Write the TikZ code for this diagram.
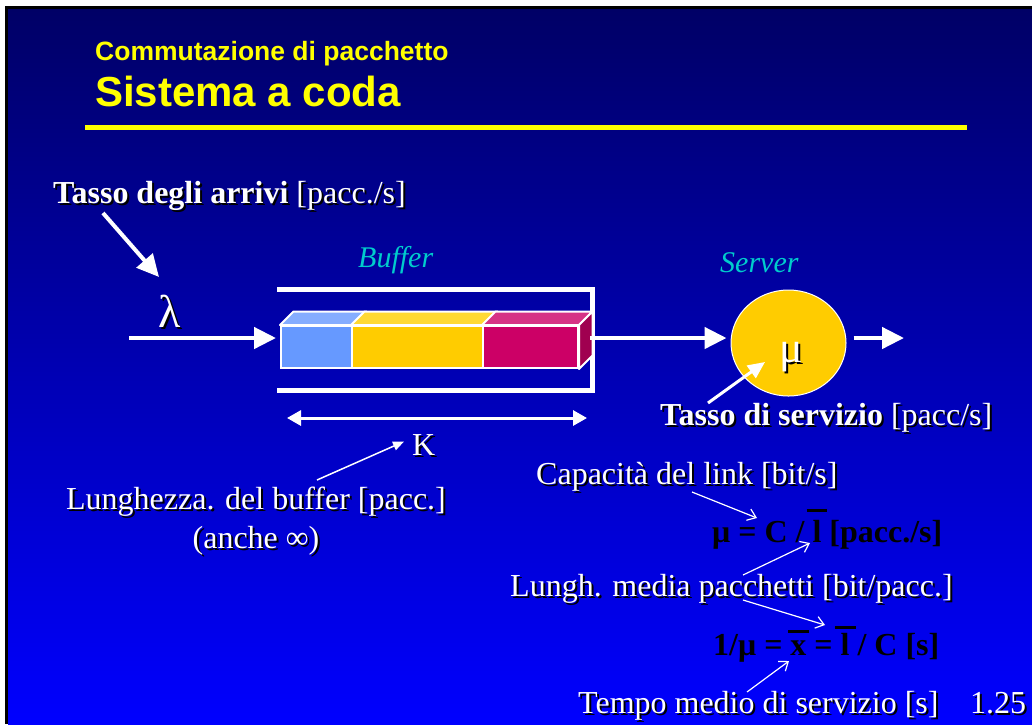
\documentclass[tikz,border=0pt]{standalone}
\usepackage{fontspec}
\setmainfont{Liberation Serif}
\newfontfamily\arialfont{Liberation Sans}
\usetikzlibrary{arrows.meta,calc,shapes.geometric}
\definecolor{navy}{RGB}{0,0,102}
\definecolor{midblue}{RGB}{0,0,180}
\definecolor{bblue}{RGB}{0,0,255}
\definecolor{ttlyellow}{RGB}{255,255,0}
\definecolor{cyanlbl}{RGB}{0,204,204}
\definecolor{pblue}{RGB}{102,153,255}
\definecolor{pbluetop}{RGB}{133,173,255}
\definecolor{pyellow}{RGB}{255,204,0}
\definecolor{pyellowtop}{RGB}{255,217,51}
\definecolor{pmag}{RGB}{204,0,102}
\definecolor{pmagtop}{RGB}{214,51,133}
\definecolor{pmagside}{RGB}{160,0,80}
\newcommand\fs[1]{\fontsize{#1}{#1}\selectfont}
\newcommand\ovbar[2]{\setbox0\hbox{#1}\rlap{\hbox to \wd0{\hss\raisebox{#2}{\rule{0.65em}{0.09em}}\hss}}\box0\relax}
\newcommand\shnode[4][]{%
  \node[txt,#1,text=black] at ($(#3)+(2,2)$) {#4};
  \node[txt,#1] (#2) at (#3) {#4};}
\begin{document}
\begin{tikzpicture}[x=1pt,y=-1pt,
  txt/.style={font=\fs{32}, inner sep=0pt, text=white},
  title/.style={inner sep=0pt, text=ttlyellow, anchor=base west},
  lbl/.style={inner sep=0pt, text=cyanlbl, anchor=base west, font=\fs{30}\itshape},
  formula/.style={inner sep=0pt, text=black, anchor=base west, font=\fs{32}\bfseries},
  bigarrow/.style={draw=white, line width=4.5pt, -{Triangle[length=22pt,width=21pt]}},
  midarrow/.style={draw=white, line width=3pt, -{Triangle[length=17pt,width=15pt]}},
  karrow/.style={draw=white, line width=3pt, {Triangle[length=14pt,width=15pt]}-{Triangle[length=14pt,width=15pt]}},
  smallarrow/.style={draw=white, line width=1.5pt, -{Triangle[length=11pt,width=9pt]}},
  thinarrow/.style={draw=white, line width=1.2pt, -{Straight Barb[length=8pt,width=12pt,line width=1.2pt]}},
  pkt/.style={draw=white, line width=2pt, minimum height=42pt, inner sep=0pt, anchor=north west},
  face/.style={draw=white, line width=2pt, line join=round}]
\useasboundingbox (0,0) rectangle (1032,724);
% background
\fill[white] (0,0) rectangle (1032,724);
\fill[black] (5,6) rectangle (1032,724);
\shade[top color=navy, middle color=midblue, bottom color=bblue] (8,9) rectangle (1032,724);
% title
\node[title, font=\arialfont\bfseries\fs{26.5}] (t1) at (95,60) {Commutazione di pacchetto};
\node[title, font=\arialfont\bfseries\fs{42}] (t2) at (95,106) {Sistema a coda};
\draw[ttlyellow, line width=5pt] (85,127.5) -- (967,127.5);
% arrivals
\shnode[anchor=base west]{arr}{53,203}{\textbf{Tasso degli arrivi} [pacc./s]}
\coordinate (a1s) at (103,213);
\coordinate (a1e) at (159,277);
\draw[bigarrow, line width=4pt] (a1s) -- (a1e);
\shnode[anchor=base west, font=\fs{46}]{lam}{158,327}{λ}
% labels
\node[lbl] (buflbl) at (358,267) {Buffer};
\node[lbl] (srvlbl) at (720,272) {Server};
% buffer walls
\draw[white, line width=5pt] (277,289.5) -- (592.5,289.5) -- (592.5,390) -- (277,390);
% packets
\node[pkt, fill=pblue, minimum width=71pt] (p1) at (280,325) {};
\node[pkt, fill=pyellow, minimum width=131pt] (p2) at (351,325) {};
\node[pkt, fill=pmag, minimum width=95pt] (p3) at (482,325) {};
\filldraw[face, fill=pbluetop] (p1.north west) -- ++(13.5,-13.5) -- ($(p1.north east)+(13.5,-13.5)$) -- (p1.north east) -- cycle;
\filldraw[face, fill=pyellowtop] (p2.north west) -- ++(13.5,-13.5) -- ($(p2.north east)+(13.5,-13.5)$) -- (p2.north east) -- cycle;
\filldraw[face, fill=pmagtop] (p3.north west) -- ++(13.5,-13.5) -- ($(p3.north east)+(13.5,-13.5)$) -- (p3.north east) -- cycle;
\filldraw[face, fill=pmagside] (p3.north east) -- ++(13.5,-13.5) -- ($(p3.south east)+(13.5,-13.5)$) -- (p3.south east) -- cycle;
% input arrow
\coordinate (inS) at (129,338);
\draw[bigarrow] (inS) -- ($(inS -| p1.west)+(-4,0)$);
% server
\node[ellipse, fill=pyellow, draw=white, line width=1pt, minimum width=115pt, minimum height=106pt, inner sep=0pt] (srv) at (788.5,343) {};
\coordinate (bufR) at (590,338);
\draw[bigarrow] (bufR) -- ($(bufR -| srv.west)+(-4,0)$);
\coordinate (outE) at (904,338);
\draw[bigarrow] ($(outE -| srv.east)+(7,0)$) -- (outE);
\shnode[anchor=base west, font=\fs{44}]{mu}{779,362}{μ}
\shnode[anchor=base west]{serv}{660,425}{\textbf{Tasso di servizio} [pacc/s]}
\coordinate (sa) at (708,403);
\coordinate (sb) at (765,362);
\draw[midarrow] (sa) -- (sb);
% K
\coordinate (kl) at (287,418);
\coordinate (kr) at (587,418);
\draw[karrow] (kl) -- (kr);
\shnode[anchor=base west]{K}{412,455}{K}
\shnode[anchor=base]{lung}{256,509}{Lunghezza. del buffer [pacc.]}
\shnode[anchor=base]{anche}{256,548}{(anche ∞)}
\coordinate (ks) at (317,480);
\draw[smallarrow] (ks) -- ($(K.west)+(-8,-3)$);
% right-hand formulas
\shnode[anchor=base west]{cap}{536,484}{Capacità del link [bit/s]}
\node[formula] (f1) at (712,542) {μ = C / \ovbar{l}{0.95em} [pacc./s]};
\shnode[anchor=base west]{lmp}{510,596}{Lungh. media pacchetti [bit/pacc.]}
\node[formula] (f2) at (713,655) {1/μ = \ovbar{x}{0.68em} = \ovbar{l}{0.82em} / C [s]};
\shnode[anchor=base west]{tms}{578,713}{Tempo medio di servizio [s]}
\shnode[anchor=base west]{pg}{970,713}{1.25}
\coordinate (c1) at (692,492);
\coordinate (c2) at (757,518);
\draw[thinarrow] (c1) -- (c2);
\coordinate (l1) at (743,575);
\coordinate (l2) at (810,543);
\draw[thinarrow] (l1) -- (l2);
\coordinate (l3) at (743,600);
\coordinate (l4) at (825,625);
\draw[thinarrow] (l3) -- (l4);
\coordinate (m1) at (747,692);
\coordinate (m2) at (789,661);
\draw[thinarrow] (m1) -- (m2);
\end{tikzpicture}
\end{document}
